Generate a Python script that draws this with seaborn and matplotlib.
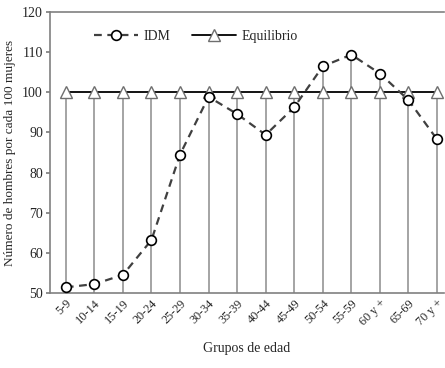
import numpy as np
import pandas as pd
import matplotlib
matplotlib.use("Agg")
import matplotlib.pyplot as plt
import seaborn as sns

grupos = ["5-9", "10-14", "15-19", "20-24", "25-29", "30-34", "35-39",
          "40-44", "45-49", "50-54", "55-59", "60 y +", "65-69", "70 y +"]
idm = [51.4, 52.2, 54.5, 63.2, 84.5, 98.9, 94.6, 89.4, 96.3, 106.5,
       109.4, 104.7, 98.1, 88.3]
equilibrio = [100] * len(grupos)

sns.set_theme(style="white")
plt.rcParams["font.family"] = ["Liberation Serif", "DejaVu Serif"]

pos = np.arange(len(grupos))
df = pd.DataFrame({"pos": pos, "grupo": grupos, "IDM": idm, "Equilibrio": equilibrio})

fig = plt.figure(figsize=(4.45, 3.68), dpi=100)
ax = fig.add_axes([0.112, 0.204, 0.886, 0.763])

# drop lines from each point down to the axis
tops = np.maximum(df["IDM"], df["Equilibrio"])
ax.vlines(df["pos"], 50, tops, color="#8c8c8c", lw=1.1, zorder=1)

sns.lineplot(data=df, x="pos", y="IDM", ax=ax, color="#404040",
             linestyle=(0, (3.5, 2.5)), lw=1.6, marker="o", markersize=7,
             markerfacecolor="white", markeredgecolor="black",
             markeredgewidth=1.2, label="IDM", zorder=3)
sns.lineplot(data=df, x="pos", y="Equilibrio", ax=ax, color="black",
             lw=1.3, marker="^", markersize=8, markerfacecolor="white",
             markeredgecolor="#6e6e6e", markeredgewidth=1.0,
             label="Equilibrio", zorder=2)

ax.set_xlim(-0.56, 13.25)
ax.set_ylim(50, 120)
ax.set_yticks(range(50, 121, 10))
ax.set_xticks(pos)
ax.set_xticklabels(grupos, rotation=45, ha="right", rotation_mode="anchor",
                   fontsize=8.8)
ax.tick_params(axis="y", labelsize=10, length=3, color="#808080",
               direction="out", left=True, pad=2)
ax.tick_params(axis="x", length=0, pad=3)

ax.set_xlabel("Grupos de edad", fontsize=10, labelpad=10)
ax.set_ylabel("Número de hombres por cada 100 mujeres", fontsize=9.5,
              labelpad=4)

for side in ["left", "bottom", "top"]:
    ax.spines[side].set_color("#808080")
    ax.spines[side].set_linewidth(1.2)
ax.spines["right"].set_visible(False)

leg = ax.legend(loc="upper left", bbox_to_anchor=(0.08, 0.98), ncol=2,
                frameon=False, fontsize=10, handlelength=3.2,
                columnspacing=1.5, handletextpad=0.4)

fig.savefig("out.png", dpi=100)
